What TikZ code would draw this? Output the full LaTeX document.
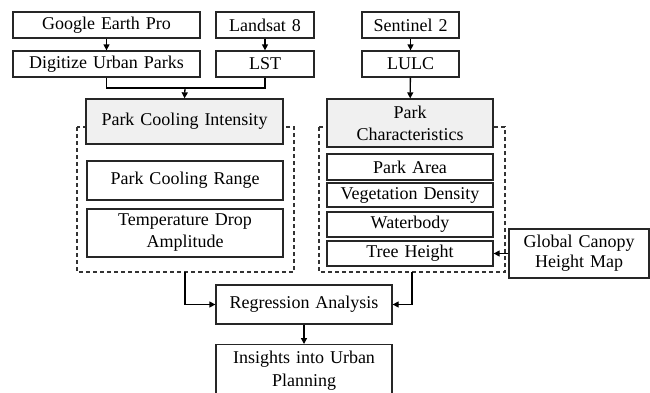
\documentclass[tikz,border=0pt]{standalone}
\usepackage{fontspec}
\setmainfont{Liberation Serif}
\newfontfamily\tnr{Liberation Serif}
\usetikzlibrary{arrows.meta}
\newcommand\boxfont{\tnr\fontsize{18}{22}\selectfont\spaceskip=6pt plus 1pt minus 1pt\relax}
\newcommand\boxfontb{\tnr\fontsize{18}{20}\selectfont\spaceskip=6pt plus 1pt minus 1pt\relax}
\newcommand\boxfontc{\tnr\fontsize{18}{23}\selectfont\spaceskip=6pt plus 1pt minus 1pt\relax}
\tikzset{
  x=1pt, y=-1pt,
  box/.style={draw=black!85, line width=1.3pt, fill=white, inner sep=0pt, align=center,
    font=\boxfont},
  graybox/.style={box, fill=gray!12},
  dashbox/.style={draw=black!80, line width=1.3pt, dash pattern=on 4pt off 3pt},
  conn/.style={draw=black, line width=1.3pt},
  arr/.style={conn, -{Triangle[length=6pt,width=6pt]}}
}
\begin{document}
\begin{tikzpicture}
\clip (0,0) rectangle (650,392);
\fill[white] (0,0) rectangle (650,392);
% dashed groups
\draw[dashbox] (77,127) rectangle (294,272);
\draw[dashbox] (319,127) rectangle (505,272);
\coordinate (lbot) at (185,272);
\coordinate (rbot) at (412,272);
% top row
\node[box, minimum width=187pt, minimum height=26pt] (gep) at (106.5,25) {Google Earth Pro};
\node[box, minimum width=98pt, minimum height=26pt] (land) at (265,25) {Landsat 8};
\node[box, minimum width=97pt, minimum height=26pt] (sent) at (410.5,25) {Sentinel 2};
\node[box, minimum width=187pt, minimum height=26pt] (dig) at (106.5,64) {Digitize Urban Parks};
\node[box, minimum width=98pt, minimum height=26pt] (lst) at (265,64) {LST};
\node[box, minimum width=97pt, minimum height=26pt] (lulc) at (410.5,64) {LULC};
% left group
\node[graybox, minimum width=197pt, minimum height=45pt] (pci) at (184.5,121.5) {Park Cooling Intensity};
\node[box, minimum width=196pt, minimum height=39pt] (pcr) at (185,180.5) {Park Cooling Range};
\node[box, minimum width=196pt, minimum height=48pt] (tda) at (185,233) {Temperature Drop\\Amplitude};
% right group
\node[graybox, minimum width=166pt, minimum height=48pt] (pc) at (410,123) {Park\\Characteristics};
\node[box, minimum width=166pt, minimum height=26pt] (area) at (410,167) {Park Area};
\node[box, minimum width=166pt, minimum height=24pt] (veg) at (410,195) {Vegetation Density};
\node[box, minimum width=166pt, minimum height=25pt] (water) at (410,224.5) {Waterbody};
\node[box, minimum width=166pt, minimum height=25pt] (tree) at (410,253.5) {Tree Height};
\node[box, minimum width=140pt, minimum height=49pt, font=\boxfontb] (gchm) at (579,253.5) {Global Canopy\\Height Map};
% bottom
\node[box, minimum width=176pt, minimum height=39pt] (reg) at (304,304.5) {Regression Analysis};
\node[box, minimum width=176pt, minimum height=52pt, anchor=north, font=\boxfontc] (ins) at (304,344) {Insights into Urban\\Planning};
% connectors
\draw[arr] (gep) -- (dig);
\draw[arr] (land) -- (lst);
\draw[arr] (sent) -- (lulc);
\coordinate (merge) at (185,88);
\draw[conn] (dig.south) |- (merge) -| (lst.south);
\draw[arr] (merge) -- (pci.north);
\draw[arr] (lulc) -- (pc);
\draw[arr] (lbot) |- (reg.west);
\draw[arr] (rbot) |- (reg.east);
\draw[arr] (reg) -- (ins);
\draw[arr] (gchm) -- (tree);
\end{tikzpicture}
\end{document}
